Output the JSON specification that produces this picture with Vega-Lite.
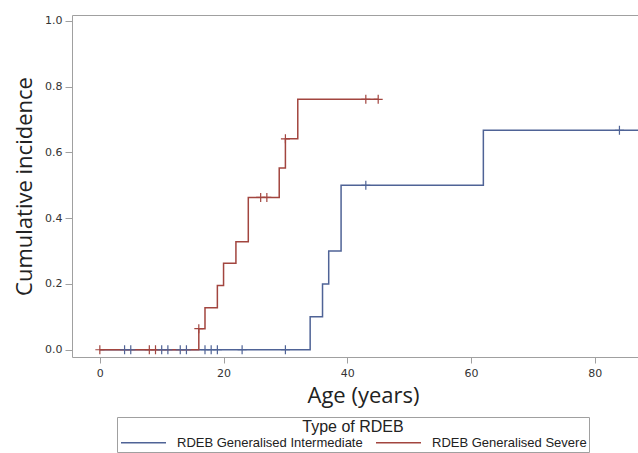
{
  "$schema": "https://vega.github.io/schema/vega-lite/v6.json",
  "width": 566,
  "height": 342,
  "autosize": {"type": "none"},
  "padding": {"left": 72, "top": 15, "right": 0, "bottom": 96},
  "background": "white",
  "config": {
    "view": {"stroke": null},
    "axis": {
      "grid": false,
      "domainColor": "#a0a0a0",
      "tickColor": "#a0a0a0",
      "labelFont": "DejaVu Sans",
      "labelFontSize": 11,
      "labelColor": "#333333",
      "titleFont": "Open Sans",
      "titleFontSize": 22,
      "titleFontWeight": "normal",
      "titleColor": "#222222"
    },
    "legend": {
      "strokeColor": "#a0a0a0",
      "padding": 2,
      "titleFont": "Liberation Sans",
      "titleFontSize": 16,
      "titleFontWeight": "normal",
      "titleColor": "#222222",
      "titleAnchor": "middle",
      "titlePadding": 1,
      "labelFont": "Liberation Sans",
      "labelFontSize": 13,
      "labelColor": "#222222",
      "labelLimit": 400,
      "symbolType": "M-5,0L5,0",
      "symbolSize": 81,
      "symbolOffset": 18,
      "labelOffset": 27,
      "columnPadding": 10,
      "symbolStrokeWidth": 1.5
    }
  },
  "datasets": {
    "km": [
      {"group": "RDEB Generalised Intermediate", "kind": "curve", "age": 0, "ci": 0},
      {"group": "RDEB Generalised Intermediate", "kind": "curve", "age": 34, "ci": 0.1},
      {"group": "RDEB Generalised Intermediate", "kind": "curve", "age": 36, "ci": 0.2},
      {"group": "RDEB Generalised Intermediate", "kind": "curve", "age": 37, "ci": 0.3},
      {"group": "RDEB Generalised Intermediate", "kind": "curve", "age": 39, "ci": 0.5},
      {"group": "RDEB Generalised Intermediate", "kind": "curve", "age": 62, "ci": 0.667},
      {"group": "RDEB Generalised Intermediate", "kind": "curve", "age": 87, "ci": 0.667},
      {"group": "RDEB Generalised Severe", "kind": "curve", "age": 0, "ci": 0},
      {"group": "RDEB Generalised Severe", "kind": "curve", "age": 16, "ci": 0.064},
      {"group": "RDEB Generalised Severe", "kind": "curve", "age": 17, "ci": 0.128},
      {"group": "RDEB Generalised Severe", "kind": "curve", "age": 19, "ci": 0.195},
      {"group": "RDEB Generalised Severe", "kind": "curve", "age": 20, "ci": 0.263},
      {"group": "RDEB Generalised Severe", "kind": "curve", "age": 22, "ci": 0.328},
      {"group": "RDEB Generalised Severe", "kind": "curve", "age": 24, "ci": 0.463},
      {"group": "RDEB Generalised Severe", "kind": "curve", "age": 29, "ci": 0.552},
      {"group": "RDEB Generalised Severe", "kind": "curve", "age": 30, "ci": 0.641},
      {"group": "RDEB Generalised Severe", "kind": "curve", "age": 32, "ci": 0.761},
      {"group": "RDEB Generalised Severe", "kind": "curve", "age": 45, "ci": 0.761},
      {"group": "RDEB Generalised Severe", "kind": "censor", "age": 0, "ci": 0},
      {"group": "RDEB Generalised Severe", "kind": "censor", "age": 8, "ci": 0},
      {"group": "RDEB Generalised Severe", "kind": "censor", "age": 9, "ci": 0},
      {"group": "RDEB Generalised Severe", "kind": "censor", "age": 16, "ci": 0.064},
      {"group": "RDEB Generalised Severe", "kind": "censor", "age": 26, "ci": 0.463},
      {"group": "RDEB Generalised Severe", "kind": "censor", "age": 27, "ci": 0.463},
      {"group": "RDEB Generalised Severe", "kind": "censor", "age": 30, "ci": 0.641},
      {"group": "RDEB Generalised Severe", "kind": "censor", "age": 43, "ci": 0.761},
      {"group": "RDEB Generalised Severe", "kind": "censor", "age": 45, "ci": 0.761},
      {"group": "RDEB Generalised Intermediate", "kind": "censor", "age": 4, "ci": 0},
      {"group": "RDEB Generalised Intermediate", "kind": "censor", "age": 5, "ci": 0},
      {"group": "RDEB Generalised Intermediate", "kind": "censor", "age": 10, "ci": 0},
      {"group": "RDEB Generalised Intermediate", "kind": "censor", "age": 11, "ci": 0},
      {"group": "RDEB Generalised Intermediate", "kind": "censor", "age": 13, "ci": 0},
      {"group": "RDEB Generalised Intermediate", "kind": "censor", "age": 14, "ci": 0},
      {"group": "RDEB Generalised Intermediate", "kind": "censor", "age": 17, "ci": 0},
      {"group": "RDEB Generalised Intermediate", "kind": "censor", "age": 18, "ci": 0},
      {"group": "RDEB Generalised Intermediate", "kind": "censor", "age": 19, "ci": 0},
      {"group": "RDEB Generalised Intermediate", "kind": "censor", "age": 23, "ci": 0},
      {"group": "RDEB Generalised Intermediate", "kind": "censor", "age": 30, "ci": 0},
      {"group": "RDEB Generalised Intermediate", "kind": "censor", "age": 43, "ci": 0.5},
      {"group": "RDEB Generalised Intermediate", "kind": "censor", "age": 84, "ci": 0.667}
    ]
  },
  "data": {"name": "km"},
  "resolve": {"axis": {"x": "independent"}},
  "layer": [
    {
      "transform": [{"filter": "datum.kind === 'curve'"}],
      "mark": {"type": "line", "interpolate": "step-after", "strokeWidth": 1.5, "clip": true},
      "encoding": {
        "x": {
          "field": "age", "type": "quantitative",
          "scale": {"domain": [-4.5, 87], "nice": false, "zero": false},
          "axis": {"title": "Age (years)", "values": [0, 20, 40, 60, 80], "tickSize": 6, "labelPadding": 4, "titlePadding": 7, "labelFlush": false, "titleX": 291}
        },
        "y": {
          "field": "ci", "type": "quantitative",
          "scale": {"domain": [-0.022, 1.0173], "nice": false, "zero": false},
          "axis": {"title": "Cumulative incidence", "values": [0, 0.2, 0.4, 0.6, 0.8, 1.0], "format": ".1f", "tickSize": 7, "labelPadding": 3, "titlePadding": 8, "labelFlush": false}
        },
        "color": {
          "field": "group", "type": "nominal",
          "scale": {"domain": ["RDEB Generalised Intermediate", "RDEB Generalised Severe"], "range": ["#4f6396", "#a2453f"]},
          "legend": {"title": "Type of RDEB", "orient": "none", "legendX": 45, "legendY": 402, "direction": "horizontal", "columns": 2}
        }
      }
    },
    {
      "transform": [{"filter": "datum.kind === 'censor'"}],
      "mark": {"type": "point", "shape": "M-1,0L1,0M0,-1L0,1", "filled": false, "size": 81, "strokeWidth": 1.2, "opacity": 1, "clip": true},
      "encoding": {
        "x": {
          "field": "age", "type": "quantitative",
          "axis": {"orient": "top", "labels": false, "ticks": false, "title": null, "domain": true}
        },
        "y": {"field": "ci", "type": "quantitative"},
        "stroke": {
          "field": "group", "type": "nominal",
          "scale": {"domain": ["RDEB Generalised Intermediate", "RDEB Generalised Severe"], "range": ["#4f6396", "#a2453f"]},
          "legend": null
        }
      }
    }
  ]
}
